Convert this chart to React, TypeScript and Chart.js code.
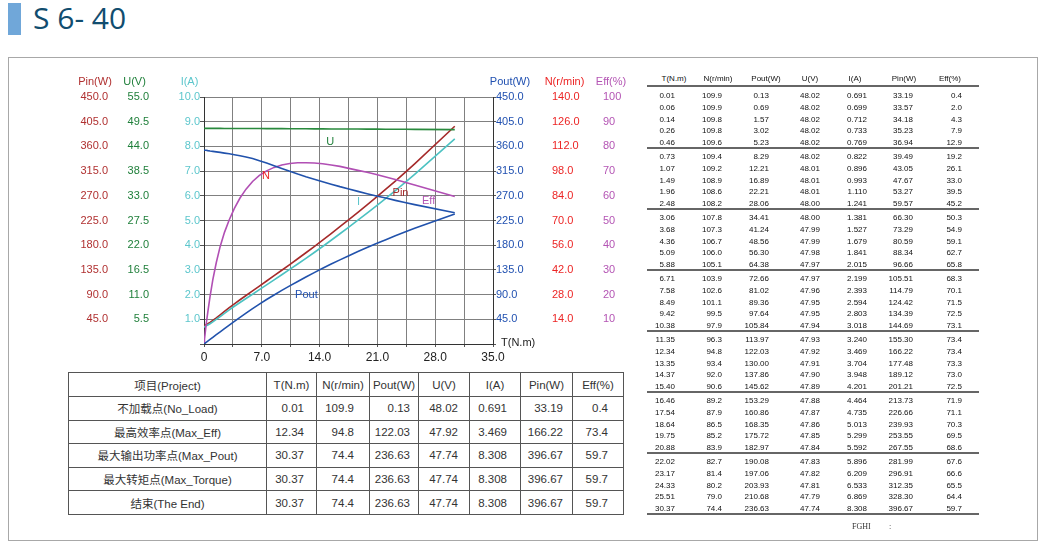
import React, { useEffect, useRef } from "react";
import { Chart, registerables } from "chart.js";

Chart.register(...registerables);

const torque = [0.01, 0.06, 0.14, 0.26, 0.46, 0.73, 1.07, 1.49, 1.96, 2.48, 3.06, 3.68, 4.36, 5.09, 5.88, 6.71, 7.58, 8.49, 9.42, 10.38, 11.35, 12.34, 13.35, 14.37, 15.4, 16.46, 17.54, 18.64, 19.75, 20.88, 22.02, 23.17, 24.33, 25.51, 30.37];
const speed = [109.9, 109.9, 109.8, 109.8, 109.6, 109.4, 109.2, 108.9, 108.6, 108.2, 107.8, 107.3, 106.7, 106.0, 105.1, 103.9, 102.6, 101.1, 99.5, 97.9, 96.3, 94.8, 93.4, 92.0, 90.6, 89.2, 87.9, 86.5, 85.2, 83.9, 82.7, 81.4, 80.2, 79.0, 74.4];
const pout = [0.13, 0.69, 1.57, 3.02, 5.23, 8.29, 12.21, 16.89, 22.21, 28.06, 34.41, 41.24, 48.56, 56.3, 64.38, 72.66, 81.02, 89.36, 97.64, 105.84, 113.97, 122.03, 130.0, 137.86, 145.62, 153.29, 160.86, 168.35, 175.72, 182.97, 190.08, 197.06, 203.93, 210.68, 236.63];
const voltage = [48.02, 48.02, 48.02, 48.02, 48.02, 48.02, 48.01, 48.01, 48.01, 48.0, 48.0, 47.99, 47.99, 47.98, 47.97, 47.97, 47.96, 47.95, 47.95, 47.94, 47.93, 47.92, 47.91, 47.9, 47.89, 47.88, 47.87, 47.86, 47.85, 47.84, 47.83, 47.82, 47.81, 47.79, 47.74];
const current = [0.691, 0.699, 0.712, 0.733, 0.769, 0.822, 0.896, 0.993, 1.11, 1.241, 1.381, 1.527, 1.679, 1.841, 2.015, 2.199, 2.393, 2.594, 2.803, 3.018, 3.24, 3.469, 3.704, 3.948, 4.201, 4.464, 4.735, 5.013, 5.299, 5.592, 5.896, 6.209, 6.533, 6.869, 8.308];
const pin = [33.19, 33.57, 34.18, 35.23, 36.94, 39.49, 43.05, 47.67, 53.27, 59.57, 66.3, 73.29, 80.59, 88.34, 96.66, 105.51, 114.79, 124.42, 134.39, 144.69, 155.3, 166.22, 177.48, 189.12, 201.21, 213.73, 226.66, 239.93, 253.55, 267.55, 281.99, 296.91, 312.35, 328.3, 396.67];
const eff = [0.4, 2.0, 4.3, 7.9, 12.9, 19.2, 26.1, 33.0, 39.5, 45.2, 50.3, 54.9, 59.1, 62.7, 65.8, 68.3, 70.1, 71.5, 72.5, 73.1, 73.4, 73.4, 73.3, 73.0, 72.5, 71.9, 71.1, 70.3, 69.5, 68.6, 67.6, 66.6, 65.5, 64.4, 59.7];

const columnHeaders = ["T(N.m)", "N(r/min)", "Pout(W)", "U(V)", "I(A)", "Pin(W)", "Eff(%)"];
const columnDecimals = [2, 1, 2, 2, 3, 2, 1];
const summaryLabels = ["不加载点(No_Load)", "最高效率点(Max_Eff)", "最大输出功率点(Max_Pout)", "最大转矩点(Max_Torque)", "结束(The End)"];
const summaryRowIndex = [0, 21, 34, 34, 34];

// axis ranges
const xMax = 35, xStep = 3.5;
const pinMax = 450, uMax = 55, iMax = 10, poutMax = 450, nMax = 140, effMax = 100;

const SANS = '"Liberation Sans", Arial, "Noto Sans CJK SC", sans-serif';
const C = {
  pin: "#b03030", pinLine: "#a52a2a",
  u: "#1f7f3a", uLine: "#2a8a3e",
  i: "#5cc6cc", iLine: "#4cc2c2",
  pout: "#2050b0", poutLine: "#2152ac",
  n: "#ec2525", nLine: "#2152ac",
  eff: "#b455b4", effLine: "#b14fb4",
};

const allSeries = [torque, speed, pout, voltage, current, pin, eff];

const overlayPlugin = {
  id: "overlay",
  afterDatasetsDraw(chart: any) {
    const { ctx, scales } = chart;
    ctx.save();
    ctx.font = `11px ${SANS}`;
    ctx.textBaseline = "middle";
    ctx.textAlign = "center";
    const titles: [string, string, number][] = [
      ["Pin(W)", C.pin, 35], ["U(V)", C.u, 74.5], ["I(A)", C.i, 129.5],
      ["Pout(W)", C.pout, 450], ["N(r/min)", C.n, 504.5], ["Eff(%)", C.eff, 551],
    ];
    titles.forEach(([t, c, x]) => { ctx.fillStyle = c; ctx.fillText(t, x, 17); });
    ctx.textAlign = "left";
    ctx.fillStyle = "#222";
    ctx.fillText("T(N.m)", scales.x.right + 8, scales.x.top - 1);
    ctx.textAlign = "center";
    const labels: [string, string, number, number][] = [
      ["U", C.u, 15.3, 8.18], ["N", C.n, 7.5, 6.8], ["Pin", C.pinLine, 23.8, 6.11],
      ["I", C.i, 18.7, 5.75], ["Eff", C.eff, 27.2, 5.79], ["Pout", C.pout, 12.4, 1.98],
    ];
    labels.forEach(([t, c, x, y]) => {
      ctx.fillStyle = c;
      ctx.fillText(t, scales.x.getPixelForValue(x), scales.yI.getPixelForValue(y));
    });
    ctx.restore();
  },
};

function sideAxis(position: string, weight: number, max: number, color: string, fmt: (v: number) => string, width: number, adjacent: boolean, tickLen: number) {
  return {
    type: "linear",
    position,
    weight,
    min: 0,
    max,
    ticks: {
      stepSize: max / 10,
      color,
      font: { family: SANS, size: 11 },
      padding: adjacent ? 0 : 2,
      autoSkip: false,
      callback: (v: any) => (Math.abs(v) < 1e-9 ? "" : fmt(Number(v))),
    },
    grid: adjacent
      ? { display: true, drawOnChartArea: position === "left", color: "#808080", lineWidth: 1, drawTicks: true, tickLength: tickLen, tickColor: "#555" }
      : { display: false, drawTicks: false },
    border: adjacent ? { display: true, color: "#333", width: 1 } : { display: false },
    afterFit: (s: any) => { s.width = width; },
  };
}

export default function App() {
  const ref = useRef<HTMLCanvasElement>(null);
  useEffect(() => {
    if (!ref.current) return;
    const mk = (vals: number[]) => torque.map((t, i) => ({ x: t, y: vals[i] }));
    const ds = (data: number[], axis: string, color: string) => ({
      data: mk(data), yAxisID: axis, borderColor: color, borderWidth: 1.6,
      pointRadius: 0, fill: false, tension: 0,
    });
    const chart = new Chart(ref.current, {
      type: "line",
      data: {
        datasets: [
          ds(voltage, "yU", C.uLine),
          ds(speed, "yN", C.nLine),
          ds(pout, "yPout", C.poutLine),
          ds(eff, "yEff", C.effLine),
          ds(current, "yI", C.iLine),
          ds(pin, "yPin", C.pinLine),
        ] as any,
      },
      options: {
        responsive: false,
        maintainAspectRatio: false,
        animation: false,
        events: [],
        layout: { padding: { top: 32, left: 0, right: 0, bottom: 0 } },
        plugins: { legend: { display: false }, tooltip: { enabled: false } },
        scales: {
          x: {
            type: "linear", min: 0, max: xMax,
            ticks: {
              stepSize: xStep, autoSkip: false, maxRotation: 0, color: "#222", padding: 3,
              font: { family: SANS, size: 12 },
              callback: (v: any) => {
                const n = Number(v);
                if (Math.abs(n) < 1e-9) return "0";
                return Math.abs(n / 7 - Math.round(n / 7)) < 1e-6 ? n.toFixed(1) : "";
              },
            },
            grid: { color: "#808080", lineWidth: 1, drawTicks: true, tickLength: 3, tickColor: "#555" },
            border: { color: "#333", width: 1 },
            afterFit: (s: any) => { s.height = 26; },
          },
          yPin: sideAxis("left", 2, pinMax, C.pin, (v) => v.toFixed(1), 50, false, 0),
          yU: sideAxis("left", 1, uMax, C.u, (v) => v.toFixed(1), 41, false, 0),
          yI: sideAxis("left", 0, iMax, C.i, (v) => v.toFixed(1), 53, true, 4),
          yPout: sideAxis("right", 0, poutMax, C.pout, (v) => v.toFixed(1), 57, true, 3),
          yN: sideAxis("right", 1, nMax, C.n, (v) => v.toFixed(1), 51, false, 0),
          yEff: sideAxis("right", 2, effMax, C.eff, (v) => v.toFixed(0), 39, false, 0),
        } as any,
      },
      plugins: [overlayPlugin],
    });
    return () => chart.destroy();
  }, []);

  const summaryColWidths = [198, 50, 53, 49, 51, 51, 52, 51];
  const summaryPadRight = [12, 15, 8, 11, 13, 9, 15];
  const cell: React.CSSProperties = { border: "1px solid #555", padding: 0, whiteSpace: "nowrap", overflow: "hidden" };

  const rightCols = [675, 722, 769, 820, 867, 913, 962];
  const rightHeadCenters = [674, 718, 766, 810, 855, 904, 950];
  const rowY = (i: number) => 96 + Math.floor(i / 5) * 61 + (i % 5) * 11.75;

  return (
    <div style={{ position: "absolute", left: 0, top: 0, width: 1050, height: 550, background: "#fff", fontFamily: SANS, overflow: "hidden" }}>
      <div style={{ position: "absolute", left: 8, top: 3, width: 13, height: 32, background: "#70a7d9" }} />
      <div style={{ position: "absolute", left: 33, top: 3, fontFamily: '"Open Sans", "Noto Sans", sans-serif', fontSize: 30, lineHeight: "30px", color: "#114d6f", whiteSpace: "pre" }}>S 6- 40</div>
      <div style={{ position: "absolute", left: 8, top: 57, width: 1028, height: 482, border: "1px solid #a8a8a8" }} />

      <canvas ref={ref} width={580} height={305} style={{ position: "absolute", left: 60, top: 65, width: 580, height: 305 }} />

      <table style={{ position: "absolute", left: 68, top: 372, borderCollapse: "collapse", tableLayout: "fixed", width: 556, fontSize: 11.5, color: "#333", fontFamily: SANS }}>
        <colgroup>
          {summaryColWidths.map((w, i) => <col key={i} style={{ width: w }} />)}
        </colgroup>
        <tbody>
          <tr style={{ height: 24 }}>
            <td style={{ ...cell, textAlign: "center" }}>项目(Project)</td>
            {columnHeaders.map((h, i) => <td key={i} style={{ ...cell, textAlign: "center" }}>{h}</td>)}
          </tr>
          {summaryLabels.map((lab, r) => (
            <tr key={r} style={{ height: 23.6 }}>
              <td style={{ ...cell, textAlign: "center" }}>{lab}</td>
              {allSeries.map((s, c) => (
                <td key={c} style={{ ...cell, textAlign: "right", paddingRight: summaryPadRight[c] }}>
                  {s[summaryRowIndex[r]].toFixed(columnDecimals[c])}
                </td>
              ))}
            </tr>
          ))}
        </tbody>
      </table>

      {/* right data table */}
      {columnHeaders.map((h, c) => (
        <div key={"h" + c} style={{ position: "absolute", left: rightHeadCenters[c] - 30, width: 60, top: 73, height: 12, lineHeight: "12px", fontSize: 8, color: "#111", textAlign: "center" }}>{h}</div>
      ))}
      <div style={{ position: "absolute", left: 647, top: 85, width: 332, height: 2, background: "#666" }} />
      {torque.map((_, i) => (
        <React.Fragment key={"r" + i}>
          {allSeries.map((s, c) => (
            <div key={c} style={{ position: "absolute", left: rightCols[c] - 40, width: 40, top: rowY(i) - 6, height: 12, lineHeight: "12px", fontSize: 8, color: "#111", textAlign: "right" }}>
              {s[i].toFixed(columnDecimals[c])}
            </div>
          ))}
        </React.Fragment>
      ))}
      {[0, 1, 2, 3, 4, 5, 6].map((g) => (
        <div key={"s" + g} style={{ position: "absolute", left: 647, top: 96 + g * 61 + 51, width: 332, height: 2, background: "#666" }} />
      ))}
      <div style={{ position: "absolute", left: 852, top: 521, fontFamily: '"Liberation Serif", serif', fontSize: 8, color: "#333", whiteSpace: "pre", lineHeight: "12px" }}>FGHI</div>
      <div style={{ position: "absolute", left: 889, top: 521, fontFamily: '"Liberation Serif", serif', fontSize: 8, color: "#333", lineHeight: "12px" }}>:</div>
    </div>
  );
}
